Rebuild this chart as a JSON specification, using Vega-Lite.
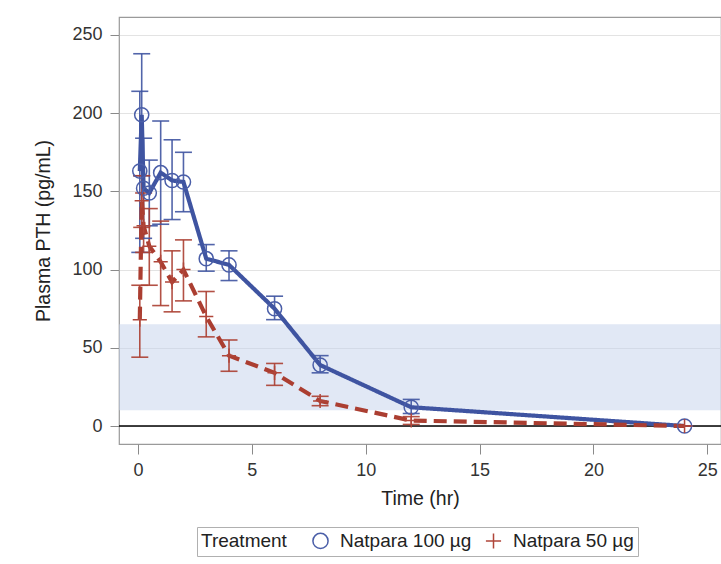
{
  "$schema": "https://vega.github.io/schema/vega-lite/v6.json",
  "width": 602,
  "height": 427,
  "autosize": {"type": "none"},
  "padding": {"left": 119, "top": 17, "right": 0, "bottom": 120},
  "background": "white",
  "config": {
    "font": "Liberation Sans",
    "view": {"stroke": "#9a9a9a", "strokeWidth": 1.2},
    "axis": {
      "labelFont": "Liberation Sans", "titleFont": "Liberation Sans",
      "labelFontSize": 18, "titleFontSize": 19.5, "titleFontWeight": "normal",
      "labelColor": "#333333", "titleColor": "#222222",
      "tickColor": "#8a8a8a", "tickSize": 9, "domain": false,
      "gridColor": "#e3e3e3", "gridWidth": 1.2
    },
    "legend": {
      "labelFont": "Liberation Sans", "titleFont": "Liberation Sans",
      "labelFontSize": 19, "titleFontSize": 19, "titleFontWeight": "normal",
      "labelColor": "#222222", "titleColor": "#222222"
    }
  },
  "datasets": {
    "pk": [
      {"group": "Natpara 100 µg", "time": 0.083, "mean": 163, "lo": 111, "hi": 214},
      {"group": "Natpara 100 µg", "time": 0.167, "mean": 199, "lo": 160, "hi": 238},
      {"group": "Natpara 100 µg", "time": 0.25, "mean": 152, "lo": 120, "hi": 184},
      {"group": "Natpara 100 µg", "time": 0.5, "mean": 149, "lo": 128, "hi": 170},
      {"group": "Natpara 100 µg", "time": 1, "mean": 162, "lo": 129, "hi": 195},
      {"group": "Natpara 100 µg", "time": 1.5, "mean": 157, "lo": 132, "hi": 183},
      {"group": "Natpara 100 µg", "time": 2, "mean": 156, "lo": 137, "hi": 175},
      {"group": "Natpara 100 µg", "time": 3, "mean": 107, "lo": 99, "hi": 116},
      {"group": "Natpara 100 µg", "time": 4, "mean": 103, "lo": 93, "hi": 112},
      {"group": "Natpara 100 µg", "time": 6, "mean": 75, "lo": 68, "hi": 83},
      {"group": "Natpara 100 µg", "time": 8, "mean": 39, "lo": 34, "hi": 45},
      {"group": "Natpara 100 µg", "time": 12, "mean": 12, "lo": 8, "hi": 17},
      {"group": "Natpara 100 µg", "time": 24, "mean": 0, "lo": 0, "hi": 0},
      {"group": "Natpara 50 µg", "time": 0.083, "mean": 68, "lo": 44, "hi": 90},
      {"group": "Natpara 50 µg", "time": 0.167, "mean": 144, "lo": 127, "hi": 160},
      {"group": "Natpara 50 µg", "time": 0.25, "mean": 128, "lo": 111, "hi": 149},
      {"group": "Natpara 50 µg", "time": 0.5, "mean": 115, "lo": 90, "hi": 139},
      {"group": "Natpara 50 µg", "time": 1, "mean": 105, "lo": 77, "hi": 131},
      {"group": "Natpara 50 µg", "time": 1.5, "mean": 92, "lo": 73, "hi": 112},
      {"group": "Natpara 50 µg", "time": 2, "mean": 100, "lo": 80, "hi": 119},
      {"group": "Natpara 50 µg", "time": 3, "mean": 70, "lo": 57, "hi": 86},
      {"group": "Natpara 50 µg", "time": 4, "mean": 45, "lo": 35, "hi": 55},
      {"group": "Natpara 50 µg", "time": 6, "mean": 34, "lo": 26, "hi": 40},
      {"group": "Natpara 50 µg", "time": 8, "mean": 16, "lo": 13, "hi": 19},
      {"group": "Natpara 50 µg", "time": 12, "mean": 3.5, "lo": 1, "hi": 6},
      {"group": "Natpara 50 µg", "time": 24, "mean": 0, "lo": 0, "hi": 0}
    ],
    "band": [{"low": 10, "high": 65}],
    "zero": [{"y": 0}]
  },
  "layer": [
    {
      "data": {"name": "band"},
      "mark": {"type": "rect", "fill": "#c3d1ec", "opacity": 0.5},
      "encoding": {
        "y": {"field": "low", "type": "quantitative",
          "scale": {"domain": [-11.5, 261.5], "nice": false, "zero": false},
          "axis": {"title": "Plasma PTH (pg/mL)", "values": [0, 50, 100, 150, 200, 250], "grid": true, "labelPadding": 8, "titlePadding": 18}},
        "y2": {"field": "high"}
      }
    },
    {
      "data": {"name": "zero"},
      "mark": {"type": "rule", "color": "#000000", "strokeWidth": 1.3},
      "encoding": {"y": {"field": "y", "type": "quantitative"}}
    },
    {
      "data": {"name": "pk"},
      "mark": {"type": "rule", "strokeWidth": 1.6, "opacity": 0.9},
      "encoding": {
        "x": {"field": "time", "type": "quantitative",
          "scale": {"domain": [-0.83, 25.6], "nice": false, "zero": false},
          "axis": {"title": "Time (hr)", "values": [0, 5, 10, 15, 20, 25], "grid": false, "tickSize": 10, "labelPadding": 7, "titlePadding": 10}},
        "y": {"field": "lo", "type": "quantitative"},
        "y2": {"field": "hi"},
        "stroke": {"field": "group", "type": "nominal", "legend": null,
          "scale": {"domain": ["Natpara 50 µg", "Natpara 100 µg"], "range": ["#ab3e31", "#3f54a1"]}}
      }
    },
    {
      "data": {"name": "pk"},
      "mark": {"type": "tick", "orient": "horizontal", "size": 17, "thickness": 1.6, "opacity": 0.9},
      "encoding": {
        "x": {"field": "time", "type": "quantitative"},
        "y": {"field": "lo", "type": "quantitative"},
        "fill": {"field": "group", "type": "nominal", "legend": null,
          "scale": {"domain": ["Natpara 50 µg", "Natpara 100 µg"], "range": ["#ab3e31", "#3f54a1"]}}
      }
    },
    {
      "data": {"name": "pk"},
      "mark": {"type": "tick", "orient": "horizontal", "size": 17, "thickness": 1.6, "opacity": 0.9},
      "encoding": {
        "x": {"field": "time", "type": "quantitative"},
        "y": {"field": "hi", "type": "quantitative"},
        "fill": {"field": "group", "type": "nominal", "legend": null}
      }
    },
    {
      "data": {"name": "pk"},
      "mark": {"type": "line", "strokeWidth": 4.2},
      "encoding": {
        "x": {"field": "time", "type": "quantitative"},
        "y": {"field": "mean", "type": "quantitative"},
        "stroke": {"field": "group", "type": "nominal", "legend": null},
        "strokeDash": {"field": "group", "type": "nominal", "legend": null,
          "scale": {"domain": ["Natpara 50 µg", "Natpara 100 µg"], "range": [[13, 7], [1, 0]]}},
        "detail": {"field": "group"}
      }
    },
    {
      "data": {"name": "pk"},
      "mark": {"type": "point", "filled": false, "strokeWidth": 1.5, "size": 200, "opacity": 1},
      "encoding": {
        "x": {"field": "time", "type": "quantitative"},
        "y": {"field": "mean", "type": "quantitative"},
        "color": {"field": "group", "type": "nominal",
          "scale": {"domain": ["Natpara 100 µg", "Natpara 50 µg"], "range": ["#4a5ea8", "#b0463a"]},
          "legend": {"title": "Treatment", "orient": "none", "legendX": 78, "legendY": 510,
            "direction": "horizontal", "titleOrient": "left",
            "strokeColor": "#b0b0b0", "padding": 4, "symbolSize": 230, "symbolStrokeWidth": 1.5,
            "columnPadding": 10, "titlePadding": 24, "labelOffset": 10}},
        "shape": {"field": "group", "type": "nominal",
          "scale": {"domain": ["Natpara 100 µg", "Natpara 50 µg"], "range": ["circle", "M-1,0L1,0M0,-1L0,1"]},
          "legend": {"title": "Treatment", "orient": "none", "legendX": 78, "legendY": 510,
            "direction": "horizontal", "titleOrient": "left"}}
      }
    }
  ]
}
